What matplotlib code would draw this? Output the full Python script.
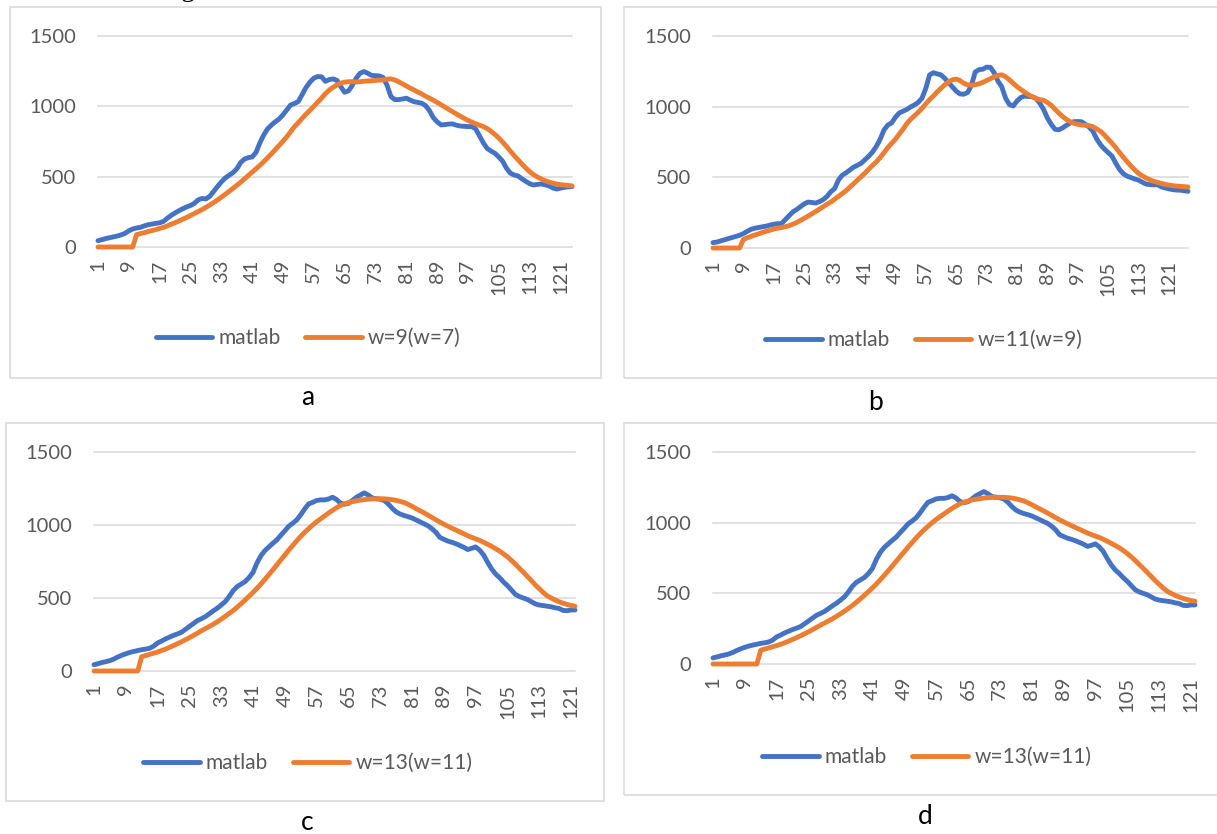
import matplotlib
matplotlib.use("Agg")
import matplotlib.pyplot as plt
from matplotlib.patches import Rectangle

W, H = 1217, 834
BLUE = "#4472C4"
ORANGE = "#ED7D31"
GRID = "#D9D9D9"
TXT = "#595959"

plt.rcParams["font.family"] = ["Lato", "DejaVu Sans"]

y_ticks = [0, 500, 1000, 1500]

matlab_a = [45, 52, 60, 66, 72, 78, 86, 97, 115, 128,
            135, 140, 150, 158, 163, 168, 172, 182, 205, 225,
            242, 258, 272, 285, 295, 310, 335, 345, 342, 360,
            395, 430, 462, 490, 510, 528, 555, 600, 625, 635,
            640, 672, 740, 796, 840, 867, 890, 910, 940, 975,
            1010, 1020, 1035, 1085, 1135, 1172, 1200, 1212, 1210, 1178,
            1190, 1195, 1185, 1140, 1100, 1110, 1150, 1200, 1235, 1247,
            1235, 1220, 1218, 1216, 1205, 1150, 1070, 1048, 1048, 1052,
            1058, 1045, 1033, 1028, 1022, 1005, 970, 920, 890, 868,
            870, 874, 875, 866, 860, 858, 856, 856, 840, 790,
            740, 700, 682, 666, 640, 610, 560, 525, 512, 505,
            485, 467, 450, 441, 445, 448, 442, 435, 420, 412,
            418, 424, 428, 429]
w9_a = [0, 0, 0, 0, 0, 0, 0, 0, 0, 0,
        88, 95, 102, 110, 117, 124, 132, 140, 150, 162,
        173, 185, 198, 210, 224, 238, 252, 266, 282, 298,
        316, 334, 354, 374, 395, 416, 438, 460, 484, 508,
        532, 556, 580, 606, 634, 662, 692, 722, 752, 784,
        820, 856, 885, 915, 945, 972, 1000, 1030, 1058, 1090,
        1115, 1135, 1152, 1165, 1172, 1175, 1175, 1173, 1175, 1178,
        1180, 1182, 1184, 1186, 1188, 1193, 1195, 1188, 1175, 1160,
        1145, 1130, 1116, 1102, 1088, 1072, 1058, 1044, 1028, 1012,
        995, 978, 962, 946, 930, 915, 900, 888, 876, 866,
        856, 842, 822, 800, 775, 746, 715, 682, 650, 620,
        590, 562, 536, 515, 498, 484, 472, 462, 454, 448,
        443, 440, 437, 435]

matlab_b = [38, 42, 50, 58, 66, 74, 82, 90, 102, 118,
            132, 140, 145, 150, 155, 162, 168, 172, 172, 200,
            228, 255, 272, 292, 312, 325, 322, 318, 328, 342,
            365, 398, 420, 480, 515, 532, 552, 572, 585, 600,
            625, 650, 680, 720, 770, 835, 870, 885, 925, 955,
            968, 980, 998, 1012, 1030, 1060, 1130, 1225, 1240, 1232,
            1225, 1200, 1170, 1140, 1110, 1090, 1088, 1100, 1150, 1245,
            1262, 1265, 1280, 1278, 1240, 1180, 1140, 1060, 1015, 1005,
            1040, 1065, 1075, 1072, 1070, 1058, 1025, 980, 920, 875,
            840, 836, 850, 868, 885, 894, 895, 893, 875, 855,
            825, 770, 730, 700, 675, 650, 600, 555, 525, 508,
            498, 488, 480, 465, 452, 448, 447, 448, 432, 425,
            418, 413, 410, 409, 405, 401]
w11_b = [0, 0, 0, 0, 0, 0, 0, 0, 60, 72,
         82, 92, 100, 110, 118, 126, 134, 140, 145, 150,
         158, 168, 180, 195, 210, 225, 242, 258, 275, 292,
         310, 325, 345, 365, 385, 405, 430, 455, 480, 505,
         530, 558, 585, 610, 640, 675, 710, 740, 770, 805,
         840, 880, 910, 935, 960, 988, 1020, 1050, 1075, 1105,
         1130, 1155, 1175, 1190, 1195, 1185, 1165, 1155, 1152, 1155,
         1162, 1172, 1185, 1198, 1210, 1222, 1225, 1212, 1190, 1165,
         1142, 1122, 1102, 1085, 1070, 1058, 1050, 1045, 1030, 1010,
         982, 955, 930, 910, 893, 882, 875, 870, 868, 866,
         858, 842, 825, 800, 770, 742, 710, 675, 642, 610,
         580, 552, 528, 510, 495, 482, 472, 464, 457, 450,
         445, 441, 438, 436, 434, 432]

matlab_cd = [43, 50, 58, 64, 71, 82, 96, 108, 118, 127,
             134, 140, 146, 150, 156, 170, 192, 205, 220, 232,
             244, 254, 265, 285, 305, 325, 345, 358, 372, 392,
             412, 430, 452, 475, 510, 550, 578, 595, 612, 640,
             675, 740, 790, 825, 850, 875, 898, 930, 960, 992,
             1012, 1035, 1070, 1110, 1145, 1155, 1168, 1172, 1172, 1178,
             1190, 1175, 1150, 1142, 1148, 1168, 1190, 1205, 1220, 1205,
             1185, 1180, 1176, 1168, 1145, 1115, 1090, 1075, 1065, 1057,
             1048, 1035, 1022, 1008, 995, 975, 950, 915, 902, 890,
             882, 872, 860, 848, 832, 840, 850, 828, 795, 745,
             700, 665, 640, 610, 585, 555, 525, 510, 500, 490,
             475, 460, 452, 448, 444, 440, 433, 428, 415, 413,
             418, 418]
w13_cd = [0, 0, 0, 0, 0, 0, 0, 0, 0, 0,
          0, 0, 98, 106, 114, 122, 130, 140, 150, 162,
          174, 187, 200, 214, 228, 243, 259, 275, 290, 305,
          320, 337, 355, 374, 394, 414, 437, 461, 486, 512,
          538, 566, 596, 628, 660, 693, 727, 761, 794, 828,
          860, 892, 922, 950, 975, 1000, 1022, 1042, 1062, 1082,
          1100, 1118, 1134, 1145, 1153, 1160, 1166, 1170, 1174, 1177,
          1179, 1180, 1180, 1179, 1177, 1174, 1169, 1162, 1154, 1142,
          1128, 1112, 1098, 1084, 1068, 1052, 1036, 1020, 1006, 992,
          979, 966, 953, 940, 927, 916, 905, 895, 882, 868,
          854, 838, 822, 803, 782, 758, 732, 704, 677, 648,
          620, 590, 564, 538, 515, 500, 486, 474, 464, 456,
          449, 444]

fig = plt.figure(figsize=(W / 100, H / 100), dpi=100)


def px_axes(x0, y0, x1, y1):
    return fig.add_axes([x0 / W, 1 - y1 / H, (x1 - x0) / W, (y1 - y0) / H])


def panel(box, plot, leg_xy, cap, cap_xy, blue, orange, orange_label):
    bx0, by0, bx1, by1 = box
    fig.add_artist(Rectangle((bx0 / W, 1 - by1 / H), (bx1 - bx0) / W, (by1 - by0) / H,
                             transform=fig.transFigure, fill=False,
                             edgecolor=GRID, lw=1.2))
    ax = px_axes(*plot)
    l1, = ax.plot(range(1, len(blue) + 1), blue, color=BLUE, lw=3.5,
                  solid_capstyle="round", solid_joinstyle="round",
                  clip_on=False, label="matlab")
    l2, = ax.plot(range(1, len(orange) + 1), orange, color=ORANGE, lw=3.5,
                  solid_capstyle="round", solid_joinstyle="round",
                  clip_on=False, label=orange_label)
    ax.set_xlim(1, len(blue))
    ax.set_ylim(0, 1500)
    ax.set_yticks(y_ticks)
    ax.set_xticks(list(range(1, len(blue) + 1, 8)))
    ax.tick_params(axis="x", rotation=90, length=0, pad=9,
                   labelsize=14.5, labelcolor=TXT)
    ax.tick_params(axis="y", length=0, pad=16, labelsize=14.5, labelcolor=TXT)
    ax.grid(axis="y", color=GRID, lw=1.1)
    ax.set_axisbelow(True)
    for s in ax.spines.values():
        s.set_visible(False)
    for gl in ax.get_ygridlines():
        gl.set_clip_on(False)
    ax.legend(handles=[l1, l2], loc="center",
              bbox_to_anchor=(leg_xy[0] / W, 1 - leg_xy[1] / H),
              bbox_transform=fig.transFigure, ncol=2, frameon=False,
              fontsize=15, handlelength=2.7, handletextpad=0.3,
              columnspacing=1.2, labelcolor=TXT)
    fig.text(cap_xy[0] / W, 1 - cap_xy[1] / H, cap, ha="center", va="center",
             fontsize=19, color="black")


# строка текста сверху, почти целиком за краем, как в исходнике
fig.text(10 / W, 1 + 4 / H, "between the original values and the smoothed results.",
         fontsize=20, family="Liberation Serif", va="baseline", ha="left")

panel((10, 7, 601, 378), (98, 36, 572, 247), (308, 338), "a", (308, 398),
      matlab_a, w9_a, "w=9(w=7)")
panel((624, 7, 1230, 378), (713, 36, 1188, 248), (924, 340), "b", (876, 402),
      matlab_b, w11_b, "w=11(w=9)")
panel((6, 423, 604, 801), (94, 452, 575, 671), (308, 763), "c", (307, 823),
      matlab_cd, w13_cd, "w=13(w=11)")
panel((624, 423, 1230, 795), (713, 452, 1195, 664), (927, 757), "d", (925, 817),
      matlab_cd, w13_cd, "w=13(w=11)")

fig.savefig("out.png", dpi=100)
